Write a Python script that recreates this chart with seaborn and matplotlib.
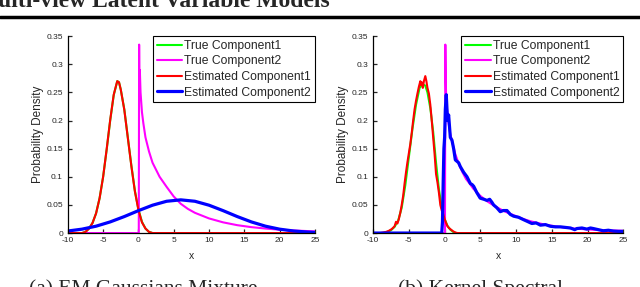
import seaborn as sns
import matplotlib.pyplot as plt
from matplotlib.lines import Line2D

# panel (a) - EM Gaussians Mixture
a_true1_x = [-10, -8, -7.5, -7, -6.5, -6, -5.5, -5, -4.5, -4, -3.5, -3, -2.75, -2.5, -2, -1.5, -1, -0.5, 0, 0.5, 1, 1.5, 2, 25]
a_true1_y = [0, 0, 0.002, 0.008, 0.018, 0.035, 0.062, 0.1, 0.148, 0.2, 0.245, 0.27, 0.268, 0.255, 0.22, 0.17, 0.12, 0.075, 0.042, 0.02, 0.008, 0.002, 0, 0]
a_est1_x = a_true1_x
a_est1_y = [0, 0, 0.002, 0.008, 0.018, 0.035, 0.062, 0.1, 0.149, 0.201, 0.246, 0.27, 0.268, 0.255, 0.219, 0.169, 0.119, 0.074, 0.041, 0.019, 0.008, 0.002, 0, 0]
a_true2_x = [-10, 0, 0.05, 0.1, 0.15, 0.2, 0.3, 0.5, 0.7, 1, 1.5, 2, 3, 4, 5, 6, 7, 8, 9, 10, 12, 14, 16, 18, 20, 22, 25]
a_true2_y = [0, 0, 0, 0.335, 0.24, 0.29, 0.25, 0.215, 0.195, 0.17, 0.145, 0.125, 0.1, 0.082, 0.065, 0.052, 0.043, 0.036, 0.031, 0.026, 0.019, 0.014, 0.0105, 0.008, 0.006, 0.0045, 0.003]
a_est2_x = [-10, -8, -6, -4, -2, 0, 2, 4, 6, 8, 10, 12, 14, 16, 18, 20, 22, 24, 25]
a_est2_y = [0.0036, 0.0069, 0.0122, 0.0198, 0.0293, 0.0398, 0.0495, 0.0565, 0.059, 0.0565, 0.0495, 0.0398, 0.0293, 0.0198, 0.0122, 0.0069, 0.0036, 0.0017, 0.0011]

# panel (b) - Kernel Spectral
b_true1_x = [-10, -8.5, -8, -7.5, -7, -6.5, -6, -5.5, -5, -4.5, -4, -3.5, -3.1, -2.7, -2.4, -2, -1.6, -1.2, -0.8, -0.4, 0, 0.4, 0.8, 1.2, 1.6, 25]
b_true1_y = [0, 0, 0.002, 0.005, 0.011, 0.022, 0.045, 0.085, 0.135, 0.185, 0.228, 0.258, 0.265, 0.262, 0.25, 0.222, 0.18, 0.125, 0.078, 0.045, 0.025, 0.013, 0.006, 0.002, 0, 0]
b_est1_x = [-10, -9, -8.6, -8.2, -7.8, -7.4, -7.0, -6.8, -6.6, -6.4, -6.2, -6.0, -5.8, -5.6, -5.4, -5.2, -5.0, -4.8, -4.6, -4.4, -4.2,
            -4.0, -3.8, -3.6, -3.4, -3.3, -3.2, -3.05, -2.9, -2.7, -2.55, -2.4, -2.2, -2.0, -1.8, -1.6, -1.4, -1.2, -1.0, -0.8,
            -0.6, -0.4, -0.2, 0.0, 0.2, 0.4, 0.6, 0.8, 1.0, 1.2, 1.5, 1.8, 25]
b_est1_y = [0, 0, 0.001, 0.002, 0.004, 0.007, 0.012, 0.02, 0.017, 0.025, 0.036, 0.05, 0.066, 0.088, 0.108, 0.126, 0.142, 0.158, 0.178, 0.2, 0.22,
            0.235, 0.248, 0.26, 0.27, 0.263, 0.268, 0.258, 0.27, 0.279, 0.27, 0.258, 0.248, 0.228, 0.2, 0.17, 0.14, 0.105, 0.09, 0.072,
            0.05, 0.04, 0.034, 0.025, 0.018, 0.012, 0.009, 0.007, 0.005, 0.003, 0.001, 0, 0]
b_true2_x = [-10, 0, 0.05, 0.1, 0.15, 0.2, 0.3, 0.5, 0.8, 1.0, 1.5, 2.0, 2.5, 3, 3.5, 4, 5, 6, 7, 8, 9, 10, 11, 12, 13, 14, 15, 16, 17, 18, 20, 22, 25]
b_true2_y = [0, 0, 0, 0.335, 0.28, 0.25, 0.225, 0.2, 0.175, 0.165, 0.14, 0.122, 0.108, 0.096, 0.088, 0.079, 0.066, 0.056, 0.048, 0.041, 0.035, 0.03,
             0.025, 0.021, 0.018, 0.015, 0.013, 0.011, 0.0095, 0.008, 0.0065, 0.005, 0.004]
b_est2_x = [-10, -0.4, -0.3, -0.2, -0.1, 0.0, 0.1, 0.23, 0.35, 0.42, 0.56, 0.8, 1.03, 1.26, 1.5, 1.96, 2.2, 2.66, 3.13, 3.6, 3.86, 4.07, 4.5,
            4.98, 5.5, 5.93, 6.3, 6.6, 6.85, 7.3, 7.78, 8.2, 8.72, 9.2, 9.65, 10.35, 11, 11.52, 12.2, 12.8, 13.4, 14.1, 14.8, 15.5,
            16.2, 16.9, 17.6, 18.2, 18.5, 19.2, 19.9, 20.4, 20.8, 21.5, 22.2, 22.9, 23.6, 24.3, 25]
b_est2_y = [0, 0, 0.02, 0.09, 0.15, 0.17, 0.22, 0.246, 0.215, 0.2, 0.21, 0.17, 0.165, 0.15, 0.13, 0.125, 0.118, 0.108, 0.1, 0.088, 0.086, 0.083, 0.072,
            0.062, 0.06, 0.058, 0.06, 0.055, 0.05, 0.045, 0.038, 0.04, 0.04, 0.033, 0.03, 0.028, 0.024, 0.021, 0.017, 0.018, 0.014, 0.015, 0.012, 0.011,
            0.011, 0.01, 0.009, 0.006, 0.008, 0.009, 0.007, 0.009, 0.008, 0.006, 0.004, 0.005, 0.0035, 0.003, 0.003]

labels = ['True Component1', 'True Component2', 'Estimated Component1', 'Estimated Component2']
colors = ['#00ff00', '#ff00ff', '#ff0000', '#0000ff']
widths = [1.5, 1.5, 1.5, 2.3]
x_ticks = [-10, -5, 0, 5, 10, 15, 20, 25]
y_ticks = [0, 0.05, 0.1, 0.15, 0.2, 0.25, 0.3, 0.35]
y_ticklabels = ['0', '0.05', '0.1', '0.15', '0.2', '0.25', '0.3', '0.35']

sns.set_style('ticks')
plt.rcParams['font.family'] = ['Liberation Sans', 'DejaVu Sans']

fig = plt.figure(figsize=(6.4, 2.87), dpi=100)
ax_a = fig.add_axes([0.106, 0.188, 0.386, 0.686])
ax_b = fig.add_axes([0.583, 0.188, 0.391, 0.686])

panels = [
    (ax_a, [(a_true1_x, a_true1_y), (a_true2_x, a_true2_y), (a_est1_x, a_est1_y), (a_est2_x, a_est2_y)]),
    (ax_b, [(b_true1_x, b_true1_y), (b_true2_x, b_true2_y), (b_est1_x, b_est1_y), (b_est2_x, b_est2_y)]),
]

for ax, series in panels:
    for (xs, ys), lab, col, lw in zip(series, labels, colors, widths):
        sns.lineplot(x=xs, y=ys, ax=ax, color=col, lw=lw, label=lab, estimator=None, sort=False)
    ax.set_xlim(-10, 25)
    ax.set_ylim(0, 0.35)
    ax.set_xticks(x_ticks)
    ax.set_xticklabels([str(t) for t in x_ticks])
    ax.set_yticks(y_ticks)
    ax.set_yticklabels(y_ticklabels)
    ax.tick_params(direction='in', length=3, width=0.9, labelsize=6)
    ax.tick_params(axis='x', pad=3)
    ax.tick_params(axis='y', pad=3.5)
    sns.despine(ax=ax)
    for s in ['left', 'bottom']:
        ax.spines[s].set_linewidth(0.9)
        ax.spines[s].set_color('black')
    ax.set_xlabel('x', fontsize=7.5, labelpad=5)
    ax.set_ylabel('Probability Density', fontsize=8.5, labelpad=2)
    leg = ax.legend(loc='upper right', fontsize=8.75, frameon=True, fancybox=False, framealpha=1,
                    edgecolor='black', handlelength=2.1, handletextpad=0.2, labelspacing=0.3,
                    borderpad=0.3, borderaxespad=0.0, bbox_to_anchor=(1.0, 1.0))
    leg.get_frame().set_linewidth(0.8)

fig.text(-0.003, 1 - 7 / 287, 'ulti-view Latent Variable Models', family='Liberation Serif',
         weight='bold', fontsize=17, va='baseline', ha='left')
fig.add_artist(Line2D([0, 1], [1 - 16.5 / 287, 1 - 16.5 / 287], color='black', lw=2.5))
fig.text(143 / 640, -7 / 287, '(a) EM Gaussians Mixture', family='Liberation Serif',
         fontsize=15.5, va='baseline', ha='center')
fig.text(480 / 640, -7 / 287, '(b) Kernel Spectral', family='Liberation Serif',
         fontsize=15.5, va='baseline', ha='center')

fig.savefig('out.png', dpi=100)
